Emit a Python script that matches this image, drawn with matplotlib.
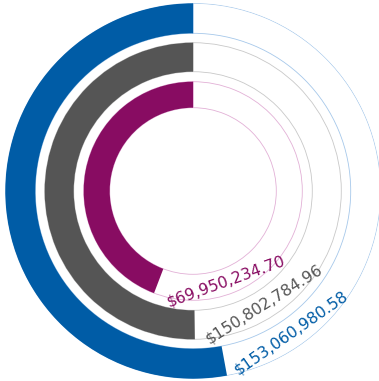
import numpy as np
import matplotlib
matplotlib.use("Agg")
import matplotlib.pyplot as plt

# datos de los anillos (de fuera hacia dentro)
valores = [153060980.58, 150802784.96, 69950234.70]
porcentaje = [52.9, 50.2, 44.2]   # avance de cada anillo sobre su meta

# estilo
colores = ["#005ca6", "#555555", "#880c62"]
colores_pista = ["#a6c8ea", "#c8c8c8", "#e2b0d6"]
radio_int = [157.7, 119.3, 83.3]
radio_ext = [187.7, 148.3, 109.3]

fig = plt.figure(figsize=(3.79, 3.81), dpi=100)
ax = fig.add_axes([5 / 379, 2 / 381, 376 / 379, 376 / 381], projection="polar")
ax.set_theta_zero_location("N")
ax.set_theta_direction(1)
ax.set_ylim(0, 188)
ax.set_axis_off()

for v, p, c, cp, ri, re in zip(valores, porcentaje, colores, colores_pista, radio_int, radio_ext):
    # pista completa (solo contorno)
    ax.bar(0, re - ri, width=2 * np.pi, bottom=ri, align="edge",
           fill=False, edgecolor=cp, linewidth=0.6, zorder=1)
    # anillo relleno
    ax.bar(0, re - ri, width=p / 100 * 2 * np.pi, bottom=ri, align="edge",
           color=c, linewidth=0, zorder=2)

# etiquetas junto al final de cada anillo
fig.canvas.draw()
rend = fig.canvas.get_renderer()
for v, p, c, ri, re in zip(valores, porcentaje, colores, radio_int, radio_ext):
    rm = (ri + re) / 2
    t = ax.text(0, rm, f"${v:,.2f}", color=c, fontsize=11.3,
                ha="center", va="center", rotation_mode="anchor", zorder=3)
    w = t.get_window_extent(rend).width
    ang = p / 100 * 2 * np.pi + (6 + w / 2) / rm
    t.set_x(ang)
    t.set_rotation(np.degrees(ang) % 180)

fig.savefig("out.png", dpi=100)
